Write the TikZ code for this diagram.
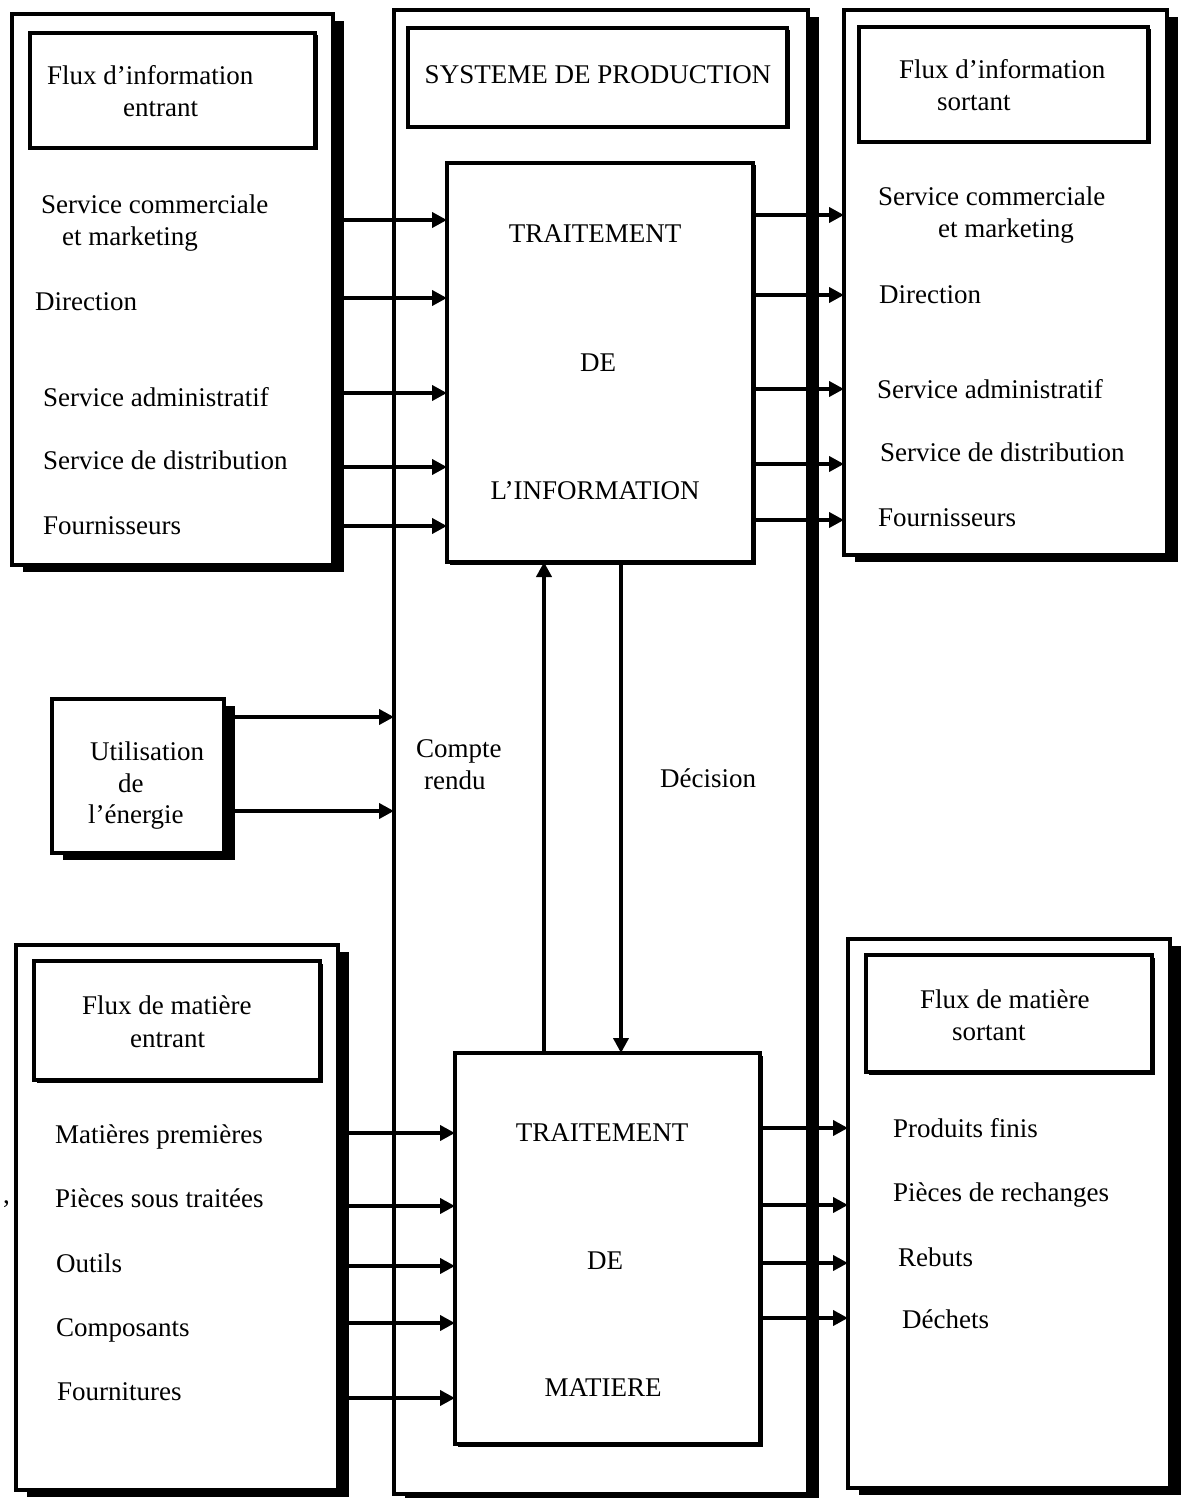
\documentclass[tikz,border=0pt]{standalone}
\usepackage{fontspec}
\setmainfont{Liberation Serif}
\usetikzlibrary{arrows.meta,shadows,fit}
\begin{document}
\begin{tikzpicture}[x=1pt,y=-1pt,
  box/.style={draw, line width=4.5pt, fill=white, inner sep=0pt, outer sep=0pt, rectangle},
  shbox/.style={box, drop shadow={shadow xshift=11pt, shadow yshift=-7pt, fill=black, opacity=1}},
  smallsh/.style={box, drop shadow={shadow xshift=2.5pt, shadow yshift=-2.5pt, fill=black, opacity=1}},
  txt/.style={anchor=base west, inner sep=0pt, font=\fontsize{27}{32}\selectfont},
  ctxt/.style={anchor=base, inner sep=0pt, font=\fontsize{27}{32}\selectfont},
  arr/.style={line width=4.5pt, -{Triangle[length=15pt,width=15pt]}}
]
\useasboundingbox (0,0) rectangle (1188,1498);
\fill[white] (0,0) rectangle (1188,1498);

% outer boxes
\node[shbox, fit={(394,10) (808,1494)}] (B) {};
\node[shbox, fit={(12,14) (333,565)}] (A) {};
\node[shbox, fit={(844,10) (1167,555)}] (C) {};
\node[shbox, fit={(52,699) (224,853)}] (EN) {};
\node[shbox, fit={(16,945) (338,1490)}] (D) {};
\node[shbox, fit={(848,939) (1170,1488)}] (E) {};

% title boxes
\node[smallsh, fit={(30,33) (315,148)}] (At) {};
\node[smallsh, fit={(408,28) (787,127)}] (Bt) {};
\node[smallsh, fit={(859,27) (1148,142)}] (Ct) {};
\node[smallsh, fit={(34,961) (320,1080)}] (Dt) {};
\node[smallsh, fit={(866,955) (1152,1072)}] (Et) {};

% processing boxes
\node[smallsh, fit={(447,163) (753,562)}] (IP) {};
\node[smallsh, fit={(455,1053) (760,1444)}] (MP) {};

% texts: information entrant
\node[txt] (a1) at (47,85) {Flux d’information};
\node[txt] (a2) at (123,117) {entrant};
\node[txt] (a3) at (41,213) {Service commerciale};
\node[txt] (a4) at (62,245) {et marketing};
\node[txt] (a5) at (35,310) {Direction};
\node[txt] (a6) at (43,406) {Service administratif};
\node[txt] (a7) at (43,469) {Service de distribution};
\node[txt] (a8) at (43,534) {Fournisseurs};

% texts: information sortant
\node[txt] (c1) at (899,79) {Flux d’information};
\node[txt] (c2) at (937,111) {sortant};
\node[txt] (c3) at (878,205) {Service commerciale};
\node[txt] (c4) at (938,237) {et marketing};
\node[txt] (c5) at (879,303) {Direction};
\node[txt] (c6) at (877,398) {Service administratif};
\node[txt] (c7) at (880,461) {Service de distribution};
\node[txt] (c8) at (878,526) {Fournisseurs};

% center texts
\node[ctxt] (b1) at (598,84) {SYSTEME DE PRODUCTION};
\node[ctxt] (i1) at (595,242) {TRAITEMENT};
\node[ctxt] (i2) at (598,371) {DE};
\node[ctxt] (i3) at (595,499) {L’INFORMATION};
\node[txt] (cr1) at (416,757) {Compte};
\node[txt] (cr2) at (424,789) {rendu};
\node[txt] (dec) at (660,787) {Décision};
\node[ctxt] (m1) at (602,1141) {TRAITEMENT};
\node[ctxt] (m2) at (605,1269) {DE};
\node[ctxt] (m3) at (603,1396) {MATIERE};

% energy
\node[txt] (e1) at (90,760) {Utilisation};
\node[txt] (e2) at (118,792) {de};
\node[txt] (e3) at (88,823) {l’énergie};

% matiere entrant
\node[txt] (d1) at (82,1014) {Flux de matière};
\node[txt] (d2) at (130,1047) {entrant};
\node[txt] (d3) at (55,1143) {Matières premières};
\node[txt] (d4) at (55,1207) {Pièces sous traitées};
\node[txt] (d5) at (56,1272) {Outils};
\node[txt] (d6) at (56,1336) {Composants};
\node[txt] (d7) at (57,1400) {Fournitures};
\node[txt] (comma) at (3,1203) {,};

% matiere sortant
\node[txt] (f1) at (920,1008) {Flux de matière};
\node[txt] (f2) at (952,1040) {sortant};
\node[txt] (f3) at (893,1137) {Produits finis};
\node[txt] (f4) at (893,1201) {Pièces de rechanges};
\node[txt] (f5) at (898,1266) {Rebuts};
\node[txt] (f6) at (902,1328) {Déchets};

% arrows information in
\foreach \yy in {220,298,393,467,526}
  \draw[arr] (A.east |- 0,\yy) -- (IP.west |- 0,\yy);
% arrows information out
\foreach \yy in {215,295,389,464,520}
  \draw[arr] (IP.east |- 0,\yy) -- (C.west |- 0,\yy);
% energy arrows
\foreach \yy in {717,811}
  \draw[arr] (EN.east |- 0,\yy) -- (B.west |- 0,\yy);
% compte rendu / decision
\draw[arr] (MP.north -| 544,0) -- (IP.south -| 544,0);
\draw[arr] (IP.south -| 621,0) -- (MP.north -| 621,0);
% matiere in
\foreach \yy in {1133,1206,1266,1323,1398}
  \draw[arr] (D.east |- 0,\yy) -- (MP.west |- 0,\yy);
% matiere out
\foreach \yy in {1128,1205,1263,1318}
  \draw[arr] (MP.east |- 0,\yy) -- (E.west |- 0,\yy);
\end{tikzpicture}
\end{document}
